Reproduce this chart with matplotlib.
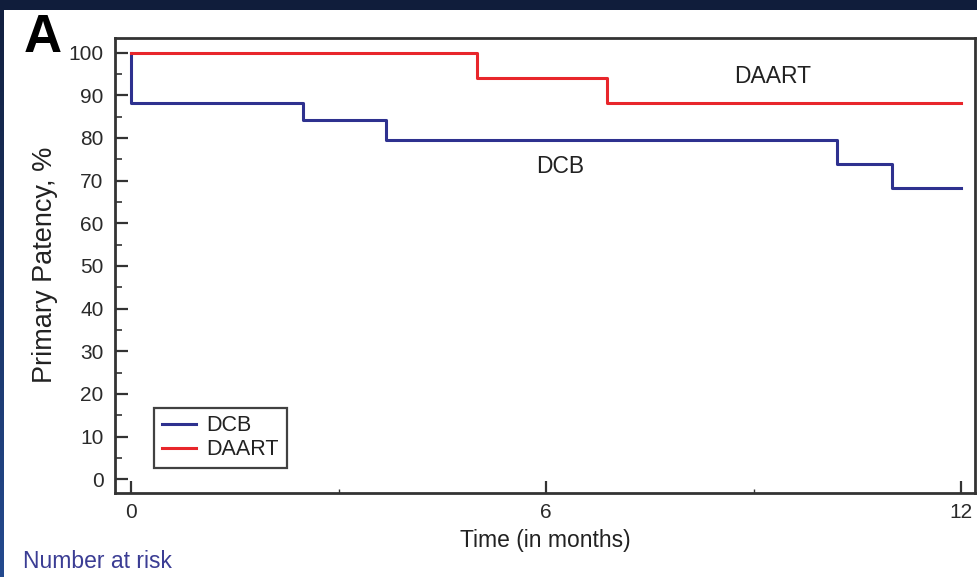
import numpy as np
import matplotlib
matplotlib.use("Agg")
import matplotlib.pyplot as plt
from matplotlib.patches import Rectangle
from matplotlib.ticker import MultipleLocator
from matplotlib.colors import LinearSegmentedColormap

plt.rcParams['font.family'] = ['Liberation Sans', 'DejaVu Sans']

# Kaplan-Meier step data (time in months, primary patency %)
dcb_time = [0, 0, 2.48, 3.68, 10.2, 11.0, 12.0]
dcb_surv = [100, 88.3, 84.1, 79.5, 73.8, 68.2, 68.2]
daart_time = [0, 5.0, 6.88, 12.0]
daart_surv = [100, 94.0, 88.3, 88.3]

series_names = ["DCB", "DAART"]
x_ticks = [0, 6, 12]
y_ticks = list(range(0, 101, 10))

blue = "#2e318f"
red = "#e8262b"
spine_c = "#333333"

fig = plt.figure(figsize=(9.77, 5.77), dpi=100)
fig.patch.set_facecolor("white")

# dark slide border (top band and left gradient band)
fig.patches.append(Rectangle((0, 1 - 10 / 577), 1, 10 / 577, transform=fig.transFigure,
                             facecolor="#101d3b", edgecolor="none", zorder=0))
gax = fig.add_axes([0, 0, 4 / 977, 1 - 10 / 577])
grad = np.linspace(0, 1, 256).reshape(-1, 1)
cm = LinearSegmentedColormap.from_list("b", ["#12203f", "#244a8f"])
gax.imshow(grad, aspect="auto", cmap=cm, extent=[0, 1, 0, 1], origin="upper")
gax.axis("off")

ax = fig.add_axes([114.5 / 977, 1 - 493.3 / 577, (975 - 114.5) / 977, (493.3 - 37.7) / 577])
ax.step(dcb_time, dcb_surv, where="post", color=blue, lw=2.2, label=series_names[0], zorder=3)
ax.step(daart_time, daart_surv, where="post", color=red, lw=2.2, label=series_names[1], zorder=3)

ax.set_xlim(-0.24, 12.2)
ax.set_ylim(-3.3, 103.5)
ax.set_xticks(x_ticks)
ax.set_yticks(y_ticks)
ax.xaxis.set_minor_locator(MultipleLocator(3))
ax.yaxis.set_minor_locator(MultipleLocator(5))

for s in ax.spines.values():
    s.set_color(spine_c)
    s.set_linewidth(2.0)

ax.tick_params(axis="y", which="major", direction="in", length=9.5, width=1.6, color=spine_c,
               labelsize=15, pad=8, labelcolor="#2a2a2a")
ax.tick_params(axis="y", which="minor", direction="in", length=5, width=1.2, color=spine_c)
ax.tick_params(axis="x", which="major", direction="in", length=8.5, width=1.6, color=spine_c,
               labelsize=15, pad=7, labelcolor="#2a2a2a")
ax.tick_params(axis="x", which="minor", direction="in", length=3, width=1.0, color=spine_c)

ax.set_xlabel("Time (in months)", fontsize=16.5, color="#222222")
ax.xaxis.set_label_coords((545 - 114.5) / (975 - 114.5), -(541 - 493.3) / (493.3 - 37.7))
ax.xaxis.label.set_va("center")
ax.set_ylabel("Primary Patency, %", fontsize=19.5, color="#222222")
ax.yaxis.set_label_coords(-(114.5 - 45) / (975 - 114.5), (493.3 - 265) / (493.3 - 37.7))
ax.yaxis.label.set_va("center")

ax.text(6.2, 73.3, "DCB", fontsize=16.5, color="#222222", ha="center", va="center")
ax.text(9.27, 94.5, "DAART", fontsize=16.5, color="#222222", ha="center", va="center")

leg = ax.legend(loc="lower left", bbox_to_anchor=((154 - 114.5) / (975 - 114.5), (493.3 - 468) / (493.3 - 37.7)),
                borderaxespad=0, fontsize=15.5, frameon=True, fancybox=False, handlelength=1.6,
                handletextpad=0.5, borderpad=0.35, labelspacing=0.15)
leg.get_frame().set_edgecolor("#111111")
leg.get_frame().set_linewidth(1.6)
for t in leg.get_texts():
    t.set_color("#222222")

fig.text(43 / 977, 1 - 52 / 577, "A", fontsize=38, fontweight="bold", ha="center", va="baseline", color="black")
fig.text(23 / 977, 1 - 561.7 / 577, "Number at risk", fontsize=16.5, color="#3b3d94", ha="left", va="center")

fig.savefig("out.png", dpi=100, facecolor="white")
